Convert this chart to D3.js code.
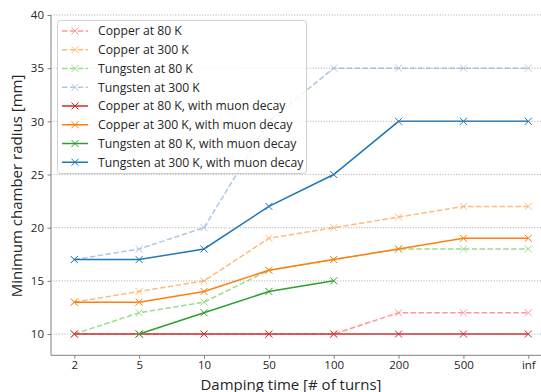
<!DOCTYPE html>
<html><head><meta charset="utf-8">
<script src="https://cdn.jsdelivr.net/npm/d3@7"></script>
<style>
body{margin:0;background:#fff}
text{font-family:"Open Sans",sans-serif;fill:#262626}
</style>
</head><body><svg id="c" width="541" height="392"></svg>
<script>
const categories = ["2","5","10","50","100","200","500","inf"];
const copper80 = [10,10,10,10,10,12,12,12];
const copper300 = [13,14,15,19,20,21,22,22];
const tungsten80 = [10,12,13,16,17,18,18,18];
const tungsten300 = [17,18,20,30,35,35,35,35];
const copper80Muon = [10,10,10,10,10,10,10,10];
const copper300Muon = [13,13,14,16,17,18,19,19];
const tungsten80Muon = [null,10,12,14,15,null,null,null];
const tungsten300Muon = [17,17,18,22,25,30,30,30];
const yTicks = [10,15,20,25,30,35,40];

const series = [
  {name:"Copper at 80 K", values:copper80, color:"#ff9896", dashed:true},
  {name:"Copper at 300 K", values:copper300, color:"#ffbb78", dashed:true},
  {name:"Tungsten at 80 K", values:tungsten80, color:"#98df8a", dashed:true},
  {name:"Tungsten at 300 K", values:tungsten300, color:"#aec7e8", dashed:true},
  {name:"Copper at 80 K, with muon decay", values:copper80Muon, color:"#d62728", dashed:false},
  {name:"Copper at 300 K, with muon decay", values:copper300Muon, color:"#ff7f0e", dashed:false},
  {name:"Tungsten at 80 K, with muon decay", values:tungsten80Muon, color:"#2ca02c", dashed:false},
  {name:"Tungsten at 300 K, with muon decay", values:tungsten300Muon, color:"#1f77b4", dashed:false}
];

const svg = d3.select("#c");
const pLeft = 51, pRight = 541, pTop = 15, pBottom = 355.3;
const x = d3.scalePoint().domain(categories).range([74.3, 528.3]);
const y = d3.scaleLinear().domain([8, 40]).range([pBottom, pTop]);

const line = d3.line().defined(d => d.v != null).x(d => x(d.c)).y(d => y(d.v));
const xPath = (cx, cy, r) => `M${cx-r},${cy-r}L${cx+r},${cy+r}M${cx-r},${cy+r}L${cx+r},${cy-r}`;

series.forEach(s => {
  const pts = categories.map((c,i) => ({c, v:s.values[i]}));
  svg.append("path").datum(pts).attr("d", line)
    .attr("fill","none").attr("stroke", s.color).attr("stroke-width",1.5)
    .attr("stroke-dasharray", s.dashed ? "5.5,2.4" : null);
  svg.append("g").selectAll("path").data(pts.filter(d => d.v != null)).join("path")
    .attr("d", d => xPath(x(d.c), y(d.v), 3.5))
    .attr("stroke", s.color).attr("stroke-width",1).attr("fill","none");
});

svg.append("g").selectAll("line").data(yTicks).join("line")
  .attr("x1", pLeft).attr("x2", pRight).attr("y1", d => y(d)).attr("y2", d => y(d))
  .attr("stroke","#999").attr("stroke-width",1).attr("stroke-dasharray","1,1.7").attr("opacity",0.8);

const yAxis = svg.append("g").attr("transform",`translate(${pLeft},0)`)
  .call(d3.axisLeft(y).tickValues(yTicks).tickSize(3.5).tickPadding(3.5));
const xAxis = svg.append("g").attr("transform",`translate(0,${pBottom})`)
  .call(d3.axisBottom(x).tickSize(3.5).tickPadding(2));
[yAxis, xAxis].forEach(a => {
  a.select(".domain").remove();
  a.selectAll(".tick line").attr("stroke","#808080").attr("stroke-width",1);
  a.selectAll(".tick text").attr("font-size",11.5).attr("fill","#262626").attr("font-family",null);
});
svg.append("line").attr("x1",pLeft).attr("x2",pLeft).attr("y1",pTop).attr("y2",pBottom)
  .attr("stroke","#808080").attr("stroke-width",1);
svg.append("line").attr("x1",pLeft).attr("x2",pRight).attr("y1",pBottom).attr("y2",pBottom)
  .attr("stroke","#808080").attr("stroke-width",1);

svg.append("text").attr("x",291).attr("y",389.5).attr("text-anchor","middle")
  .attr("font-size",15).text("Damping time [# of turns]");
svg.append("text").attr("transform","translate(22,186) rotate(-90)").attr("text-anchor","middle")
  .attr("font-size",15).text("Minimum chamber radius [mm]");

const lg = svg.append("g");
lg.append("rect").attr("x",57.5).attr("y",20.5).attr("width",249).attr("height",153).attr("rx",3)
  .attr("fill","#fff").attr("fill-opacity",0.8).attr("stroke","#d0d0d0").attr("stroke-width",1);
series.forEach((s,i) => {
  const ly = 31 + i*18.75;
  lg.append("line").attr("x1",62).attr("x2",88).attr("y1",ly).attr("y2",ly)
    .attr("stroke",s.color).attr("stroke-width",1.5).attr("stroke-dasharray", s.dashed ? "5.5,2.4" : null);
  lg.append("path").attr("d", xPath(75, ly, 3.5)).attr("stroke",s.color).attr("stroke-width",1).attr("fill","none");
  lg.append("text").attr("x",98).attr("y",ly).attr("dy","0.35em").attr("font-size",12.2).text(s.name);
});
</script>
</body></html>
